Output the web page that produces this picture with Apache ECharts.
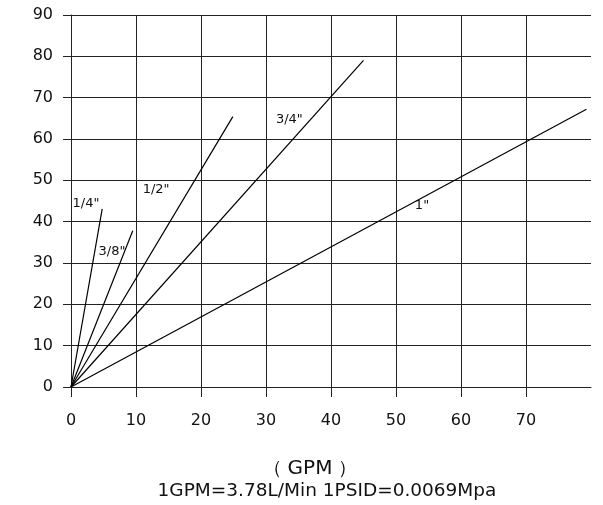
<!DOCTYPE html>
<html>
<head>
<meta charset="utf-8">
<script src="https://cdn.jsdelivr.net/npm/echarts@6/dist/echarts.min.js"></script>
<style>html,body{margin:0;padding:0;background:#fff;}#c{width:603px;height:505px;}</style>
</head>
<body>
<div id="c"></div>
<script>
// Data
const seriesNames = ['1/4"', '3/8"', '1/2"', '3/4"', '1"'];
const startFlow = [0, 0, 0, 0, 0];
const startPressure = [0, 0, 0, 0, 0];
const endFlow = [4.8, 9.5, 24.9, 45.0, 79.3];
const endPressure = [43.1, 37.8, 65.4, 79.0, 67.2];
const xTicks = [0, 10, 20, 30, 40, 50, 60, 70];
const yTicks = [0, 10, 20, 30, 40, 50, 60, 70, 80, 90];
const xAxisUnit = 'GPM';
const noteText = '1GPM=3.78L/Min 1PSID=0.0069Mpa';

// label anchor points (data units) for series labels
const labelAnchors = [[2.3, 44.4], [6.3, 32.8], [13.1, 47.8], [33.6, 64.7], [54.0, 43.8]];

const font = 'DejaVu Sans';
const chart = echarts.init(document.getElementById('c'), null, {renderer: 'canvas'});

const series = seriesNames.map((name, i) => ({
  name: name,
  type: 'line',
  symbol: 'none',
  silent: true,
  lineStyle: {color: '#000', width: 1.2},
  data: [[startFlow[i], startPressure[i]], [endFlow[i], endPressure[i]]],
  markPoint: {
    symbol: 'circle',
    symbolSize: 1,
    itemStyle: {color: 'rgba(0,0,0,0)'},
    label: {show: true, position: 'inside', formatter: name, color: '#111', fontSize: 13, fontFamily: font},
    data: [{coord: labelAnchors[i], value: name}]
  }
}));

chart.setOption({
  animation: false,
  backgroundColor: '#fff',
  grid: {left: 71, right: 12, top: 15, bottom: 118, show: false},
  xAxis: {
    type: 'value', min: 0, max: 80, interval: 10,
    axisLine: {show: true, lineStyle: {color: '#222', width: 1}},
    axisTick: {show: true, length: 10, customValues: xTicks, lineStyle: {color: '#222', width: 1}},
    axisLabel: {customValues: xTicks, fontSize: 16, fontFamily: font, color: '#111', margin: 26},
    splitLine: {show: true, lineStyle: {color: '#222', width: 1}}
  },
  yAxis: {
    type: 'value', min: 0, max: 90, interval: 10,
    axisLine: {show: true, lineStyle: {color: '#222', width: 1}},
    axisTick: {show: true, length: 8, customValues: yTicks, lineStyle: {color: '#222', width: 1}},
    axisLabel: {customValues: yTicks, fontSize: 16, fontFamily: font, color: '#111', margin: 18},
    splitLine: {show: true, lineStyle: {color: '#222', width: 1}}
  },
  graphic: [
    {type: 'text', position: [310, 469], style: {
      text: '{pl|（}{t|' + xAxisUnit + '}{pr|）}', x: 0, y: 0, align: 'center', verticalAlign: 'middle',
      rich: {
        pl: {fontSize: 19, fontFamily: font, fill: '#111', color: '#111', padding: [0, 6, 0, 0]},
        pr: {fontSize: 19, fontFamily: font, fill: '#111', color: '#111', padding: [0, 0, 0, 6]},
        t: {fontSize: 20, fontFamily: font, fill: '#111', color: '#111'}
      }
    }},
    {type: 'text', position: [327, 491], style: {text: noteText, x: 0, y: 0, fontSize: 18.5, fontFamily: font, fill: '#111', align: 'center', verticalAlign: 'middle'}}
  ],
  series: series
});
</script>
</body>
</html>
